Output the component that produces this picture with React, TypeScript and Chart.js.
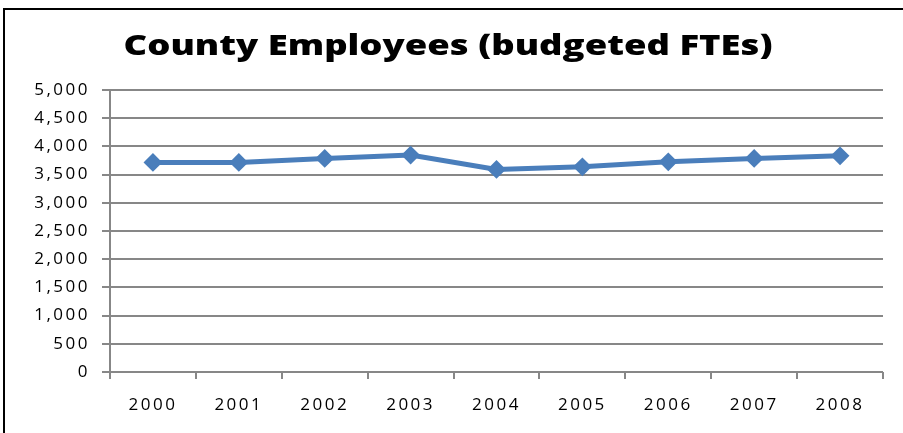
import React, { useEffect, useRef } from "react";
import { Chart, registerables } from "chart.js";

Chart.register(...registerables);

const TITLE = "County Employees (budgeted FTEs)";
const years = ["2000", "2001", "2002", "2003", "2004", "2005", "2006", "2007", "2008"];
const employees = [3716, 3716, 3787, 3846, 3592, 3638, 3727, 3787, 3833];
const yMin = 0;
const yMax = 5000;
const yStep = 500;

const GRID = "#878787";
const LINE = "#4A7EBB";

const spacingPlugin = {
  id: "spacing",
  beforeLayout(chart: any) {
    chart.ctx.letterSpacing = "2.5px";
  },
  beforeDraw(chart: any) {
    chart.ctx.letterSpacing = "2.5px";
  },
};

const titlePlugin = {
  id: "customTitle",
  afterDraw(chart: any) {
    const ctx = chart.ctx;
    ctx.save();
    ctx.letterSpacing = "0px";
    ctx.font = "800 28px 'Open Sans'";
    ctx.fillStyle = "#000";
    ctx.textAlign = "center";
    ctx.textBaseline = "middle";
    const w = ctx.measureText(TITLE).width;
    const sx = 649 / w;
    ctx.translate(448, 47);
    ctx.scale(sx, 1);
    ctx.fillText(TITLE, 0, 0);
    ctx.restore();
  },
};

export default function App() {
  const ref = useRef<HTMLCanvasElement>(null);
  useEffect(() => {
    if (!ref.current) return;
    const chart = new Chart(ref.current, {
      type: "line",
      data: {
        labels: years,
        datasets: [
          {
            label: "Employees",
            data: employees,
            borderColor: LINE,
            backgroundColor: LINE,
            borderWidth: 5,
            pointStyle: "rectRot",
            pointRadius: 8,
            pointBorderWidth: 2,
            pointBackgroundColor: LINE,
            pointBorderColor: LINE,
            tension: 0,
          },
        ],
      },
      options: {
        animation: false,
        responsive: false,
        layout: { padding: { top: 90, right: 20, left: 0, bottom: 0 } },
        plugins: {
          legend: { display: false },
          title: { display: false },
          tooltip: { enabled: false },
        },
        scales: {
          x: {
            type: "category",
            offset: true,
            afterFit(scale: any) {
              scale.height = 61;
            },
            grid: {
              offset: true,
              drawOnChartArea: false,
              drawTicks: true,
              tickLength: 7,
              color: GRID,
              lineWidth: 2,
            },
            border: { display: false },
            ticks: {
              color: "#000",
              padding: 16,
              font: { family: "'Open Sans'", size: 17 },
              maxRotation: 0,
            },
          },
          y: {
            min: yMin,
            max: yMax,
            afterFit(scale: any) {
              scale.width = 110;
            },
            grid: {
              color: GRID,
              lineWidth: 2,
              drawTicks: true,
              tickLength: 8,
            },
            border: { display: true, color: GRID, width: 2 },
            ticks: {
              stepSize: yStep,
              color: "#000",
              padding: 12,
              font: { family: "'Open Sans'", size: 17 },
              callback: (v: any) => Number(v).toLocaleString("en-US"),
            },
          },
        },
      },
      plugins: [spacingPlugin, titlePlugin],
    });
    return () => chart.destroy();
  }, []);

  return (
    <div style={{ position: "fixed", left: 0, top: 0, width: 903, height: 433, background: "#fff", overflow: "hidden" }}>
      <canvas ref={ref} width={903} height={433} style={{ position: "absolute", left: 0, top: 0, width: 903, height: 433 }} />
      <div
        style={{
          position: "absolute",
          left: 3,
          top: 8,
          width: 920,
          height: 450,
          borderTop: "2px solid #000",
          borderLeft: "2px solid #000",
          pointerEvents: "none",
        }}
      />
    </div>
  );
}
